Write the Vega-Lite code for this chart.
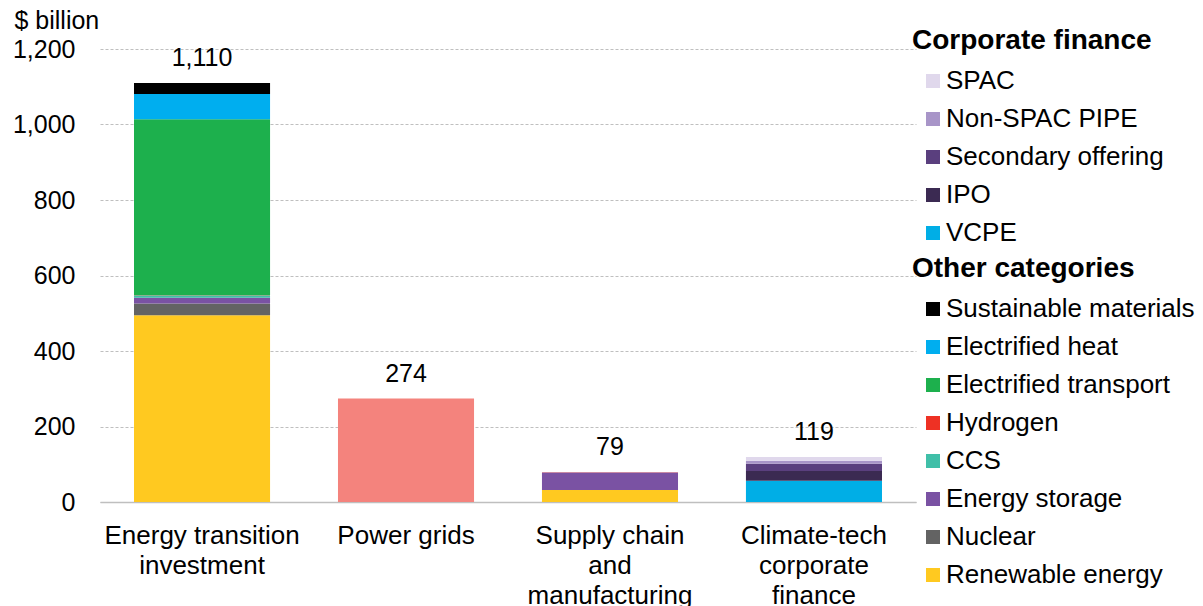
{
  "$schema": "https://vega.github.io/schema/vega-lite/v6.json",
  "width": 816,
  "height": 453,
  "autosize": {"type": "none"},
  "padding": {"left": 100, "top": 49, "right": 287, "bottom": 104},
  "background": "white",
  "config": {
    "font": "Liberation Sans",
    "view": {"stroke": null},
    "legend": {
      "titleFontSize": 28,
      "titleFontWeight": "bold",
      "titleColor": "#000000",
      "titleLimit": 400,
      "titlePadding": 13,
      "labelFontSize": 26,
      "labelColor": "#000000",
      "labelLimit": 400,
      "labelOffset": 0,
      "symbolType": "square",
      "symbolSize": 196,
      "symbolStrokeWidth": 0,
      "symbolOffset": 8,
      "rowPadding": 12,
      "padding": 0,
      "direction": "vertical"
    }
  },
  "datasets": {
    "other": [
      {"cat": "Energy transition investment", "s": "Renewable energy", "v": 495, "o": 1},
      {"cat": "Energy transition investment", "s": "Nuclear", "v": 31, "o": 2},
      {"cat": "Energy transition investment", "s": "Energy storage", "v": 15, "o": 3},
      {"cat": "Energy transition investment", "s": "CCS", "v": 6, "o": 4},
      {"cat": "Energy transition investment", "s": "Hydrogen", "v": 1, "o": 5},
      {"cat": "Energy transition investment", "s": "Electrified transport", "v": 466, "o": 6},
      {"cat": "Energy transition investment", "s": "Electrified heat", "v": 67, "o": 7},
      {"cat": "Energy transition investment", "s": "Sustainable materials", "v": 29, "o": 8},
      {"cat": "Power grids", "s": "Power grids", "v": 274, "o": 0},
      {"cat": "Supply chain and manufacturing", "s": "Renewable energy", "v": 32, "o": 1},
      {"cat": "Supply chain and manufacturing", "s": "Energy storage", "v": 46, "o": 3},
      {"cat": "Supply chain and manufacturing", "s": "Hydrogen", "v": 1, "o": 5}
    ],
    "cf": [
      {"cat": "Climate-tech corporate finance", "s": "VCPE", "v": 56, "o": 1},
      {"cat": "Climate-tech corporate finance", "s": "IPO", "v": 26, "o": 2},
      {"cat": "Climate-tech corporate finance", "s": "Secondary offering", "v": 19, "o": 3},
      {"cat": "Climate-tech corporate finance", "s": "Non-SPAC PIPE", "v": 8, "o": 4},
      {"cat": "Climate-tech corporate finance", "s": "SPAC", "v": 10, "o": 5}
    ],
    "totals": [
      {"cat": "Energy transition investment", "total": 1110},
      {"cat": "Power grids", "total": 274},
      {"cat": "Supply chain and manufacturing", "total": 79},
      {"cat": "Climate-tech corporate finance", "total": 119}
    ]
  },
  "encoding": {
    "x": {
      "field": "cat",
      "type": "nominal",
      "sort": ["Energy transition investment", "Power grids", "Supply chain and manufacturing", "Climate-tech corporate finance"],
      "scale": {"paddingInner": 0.333, "paddingOuter": 0.1667},
      "axis": {
        "title": null,
        "labelAngle": 0,
        "labelFontSize": 26,
        "labelColor": "#000000",
        "labelPadding": 20,
        "labelBaseline": "top",
        "labelLineHeight": 30,
        "labelLimit": 400,
        "ticks": false,
        "domainColor": "#BFBFBF",
        "domainWidth": 1.5,
        "labelExpr": "datum.value == 'Energy transition investment' ? ['Energy transition', 'investment'] : datum.value == 'Supply chain and manufacturing' ? ['Supply chain', 'and', 'manufacturing'] : datum.value == 'Climate-tech corporate finance' ? ['Climate-tech', 'corporate', 'finance'] : datum.value"
      }
    }
  },
  "layer": [
    {
      "data": {"name": "other"},
      "mark": {"type": "bar"},
      "encoding": {
        "y": {
          "field": "v",
          "type": "quantitative",
          "stack": "zero",
          "scale": {"domain": [0, 1200], "nice": false},
          "axis": {
            "values": [0, 200, 400, 600, 800, 1000, 1200],
            "format": ",d",
            "domain": false,
            "ticks": false,
            "grid": true,
            "gridColor": "#BFBFBF",
            "gridDash": [3, 2],
            "gridWidth": 1,
            "labelFontSize": 25,
            "labelColor": "#000000",
            "labelPadding": 25,
            "title": "$ billion",
            "titleAngle": 0,
            "titleAlign": "left",
            "titleBaseline": "alphabetic",
            "titleX": -86,
            "titleY": -21,
            "titleFontSize": 25,
            "titleFontWeight": "normal",
            "titleColor": "#000000"
          }
        },
        "color": {
          "field": "s",
          "type": "nominal",
          "scale": {
            "domain": ["Sustainable materials", "Electrified heat", "Electrified transport", "Hydrogen", "CCS", "Energy storage", "Nuclear", "Renewable energy", "Power grids"],
            "range": ["#000000", "#00AEEF", "#1DB04D", "#EE3124", "#40BFA8", "#7A52A3", "#636363", "#FFC920", "#F4837D"]
          },
          "legend": {
            "title": "Other categories",
            "values": ["Sustainable materials", "Electrified heat", "Electrified transport", "Hydrogen", "CCS", "Energy storage", "Nuclear", "Renewable energy"],
            "orient": "none",
            "legendX": 812,
            "legendY": 206
          }
        },
        "order": {"field": "o", "type": "quantitative"}
      }
    },
    {
      "data": {"name": "cf"},
      "mark": {"type": "bar"},
      "encoding": {
        "y": {"field": "v", "type": "quantitative", "stack": "zero"},
        "color": {
          "field": "s",
          "type": "nominal",
          "scale": {
            "domain": ["SPAC", "Non-SPAC PIPE", "Secondary offering", "IPO", "VCPE"],
            "range": ["#E0D8EC", "#A895C8", "#5A3F7E", "#3B2A52", "#00AEE6"]
          },
          "legend": {
            "title": "Corporate finance",
            "orient": "none",
            "legendX": 812,
            "legendY": -22
          }
        },
        "order": {"field": "o", "type": "quantitative"}
      }
    },
    {
      "data": {"name": "totals"},
      "mark": {"type": "text", "fontSize": 25, "color": "#000000", "baseline": "alphabetic", "dy": -17},
      "encoding": {
        "y": {"field": "total", "type": "quantitative"},
        "text": {"field": "total", "type": "quantitative", "format": ",d"}
      }
    }
  ],
  "resolve": {"scale": {"color": "independent"}, "legend": {"color": "independent"}}
}
